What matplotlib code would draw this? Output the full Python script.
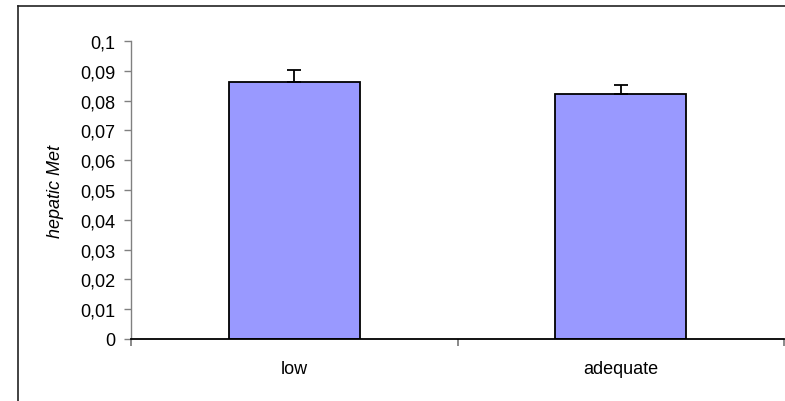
import matplotlib
matplotlib.use("Agg")
import matplotlib.pyplot as plt
from matplotlib.lines import Line2D

plt.rcParams['font.family'] = ['Liberation Sans', 'DejaVu Sans']

# data
groups = ["low", "adequate"]
means = [0.0861, 0.0821]
errs_up = [0.0041, 0.0032]
yticks = [0.0, 0.01, 0.02, 0.03, 0.04, 0.05, 0.06, 0.07, 0.08, 0.09, 0.1]
ytick_labels = ["0", "0,01", "0,02", "0,03", "0,04", "0,05", "0,06",
                "0,07", "0,08", "0,09", "0,1"]

FS = 13
W, H = 785, 402
fig = plt.figure(figsize=(W / 100, H / 100), dpi=100)
ax = fig.add_axes([131 / W, 1 - 340 / H, (784 - 131) / W, (340 - 42) / H])

x = list(range(len(groups)))
ax.bar(x, means, width=0.4, color="#9999FF", edgecolor="black", linewidth=1.3, zorder=2)
ax.errorbar(x, means, yerr=[[0] * len(errs_up), errs_up], fmt="none",
            ecolor="black", elinewidth=1.3, capsize=5, capthick=1.3, zorder=3)

ax.set_xlim(-0.5, len(groups) - 0.5)
ax.set_ylim(0, 0.1)

# y axis
ax.set_yticks(yticks)
ax.set_yticklabels(ytick_labels)
ax.tick_params(axis="y", direction="out", length=5, width=1, color="#808080",
               pad=6, labelsize=FS)
ax.set_ylabel("hepatic Met", style="italic", fontsize=FS, labelpad=12)

# x axis: ticks at category boundaries, labels at centres
ax.set_xticks([i - 0.5 for i in range(len(groups) + 1)])
ax.set_xticklabels([])
ax.set_xticks(x, minor=True)
ax.set_xticklabels(groups, minor=True)
ax.tick_params(axis="x", which="major", direction="out", length=5, width=1.3, color="#808080")
ax.tick_params(axis="x", which="minor", length=0, pad=15, labelsize=FS)

for s in ["top", "right"]:
    ax.spines[s].set_visible(False)
ax.spines["left"].set_color("#808080")
ax.spines["left"].set_linewidth(1)
ax.spines["bottom"].set_color("black")
ax.spines["bottom"].set_linewidth(1.3)

# outer chart-area frame (cropped at right and bottom)
fig.add_artist(Line2D([18 / W, 18 / W], [0, 1 - 7 / H], transform=fig.transFigure,
                      color="#222222", linewidth=1.2))
fig.add_artist(Line2D([18 / W, 1], [1 - 7 / H, 1 - 7 / H], transform=fig.transFigure,
                      color="#222222", linewidth=1.2))

fig.savefig("out.png", dpi=100)
